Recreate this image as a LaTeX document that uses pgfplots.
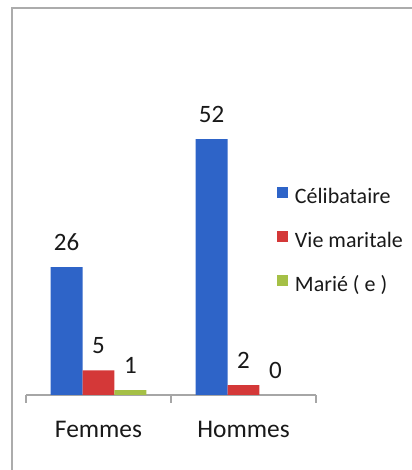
\documentclass[border=0pt]{standalone}
\usepackage{fontspec}
\setmainfont{Carlito}
\usepackage{pgfplots}
\pgfplotsset{compat=1.18}
\definecolor{celib}{RGB}{46,100,200}
\definecolor{vmar}{RGB}{212,56,56}
\definecolor{marie}{RGB}{165,192,70}
\newcommand{\catfont}{\fontsize{12.7bp}{15bp}\selectfont}
\newcommand{\datafont}{\fontsize{12.5bp}{15bp}\selectfont}
\newcommand{\legfont}{\fontsize{11bp}{13bp}\selectfont}
\begin{document}
\begin{tikzpicture}
\useasboundingbox (0,0) rectangle (206bp,235bp);
% scanned frame
\draw[gray!65, line width=0.8bp] (6bp,0) -- (6bp,231bp) -- (206bp,231bp);
\begin{axis}[
    at={(13bp,37.5bp)}, anchor=south west,
    scale only axis, width=145bp, height=135.3bp,
    xmin=-0.5, xmax=1.5, ymin=0, ymax=55,
    axis x line*=bottom, axis y line=none,
    x axis line style={gray!70, line width=0.8bp},
    ybar, bar width=0.22,
    xtick={0,1}, xticklabels={Femmes,Hommes}, major tick length=0pt,
    xticklabel style={font=\catfont, anchor=base, yshift=-21bp, text=black!90},
    extra x ticks={-0.5,0.5,1.5}, extra x tick labels={},
    extra x tick style={tick align=outside, major tick length=4bp,
        tick style={gray!70, line width=0.8bp}},
    /pgf/number format/assume math mode=true,
    nodes near coords,
    nodes near coords style={font=\datafont, anchor=center, yshift=12.5bp, text=black!90},
    legend style={at={(0.8655,0.7687)}, anchor=north west, draw=none, fill=none,
        inner sep=0pt, outer sep=0pt, font=\legfont, row sep=11.5bp, column sep=3.5bp,
        nodes={inner sep=0pt, text height=8bp, text depth=2bp, text=black!90}},
    legend cell align=left,
    legend image code/.code={\fill[#1] (0bp,0bp) rectangle (5.5bp,5.5bp);},
]
\addplot[fill=celib, draw=none, bar shift=-0.22] coordinates {(0,26) (1,52)};
\addplot[fill=vmar, draw=none, bar shift=0] coordinates {(0,5) (1,2)};
\addplot[fill=marie, draw=none, bar shift=0.22] coordinates {(0,1) (1,0)};
\legend{Célibataire, Vie maritale, Marié ( e )}
\end{axis}
\end{tikzpicture}
\end{document}
